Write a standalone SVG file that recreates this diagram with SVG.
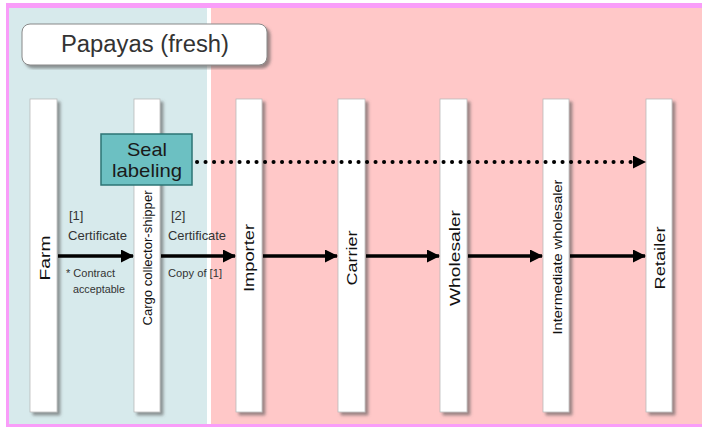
<svg xmlns="http://www.w3.org/2000/svg" width="702" height="427" viewBox="0 0 702 427">
  <defs>
    <filter id="sh" x="-30%" y="-10%" width="160%" height="120%">
      <feDropShadow dx="3" dy="3" stdDeviation="1.5" flood-color="#555" flood-opacity="0.6"/>
    </filter>
    <marker id="ah" markerWidth="13" markerHeight="13" refX="12" refY="6.5" orient="auto" markerUnits="userSpaceOnUse">
      <path d="M0,0 L13,6.5 L0,13 Z" fill="#000"/>
    </marker>
  </defs>
  <style>
    .lane { fill: #ffffff; stroke: #bbbbbb; stroke-width: 0.8; filter: url(#sh); }
    .ln { font-family: "Liberation Sans", Arial, sans-serif; font-size: 15px; fill: #111; }
    .sm { font-family: "Liberation Sans", Arial, sans-serif; font-size: 13px; fill: #333; }
    .xs { font-family: "Liberation Sans", Arial, sans-serif; font-size: 11px; fill: #333; }
    .flow { stroke: #000; stroke-width: 3.5; fill: none; marker-end: url(#ah); }
    .dot { stroke: #000; stroke-width: 4; fill: none; stroke-dasharray: 0.1 8.4; stroke-linecap: round; marker-end: url(#ah); }
  </style>

  <!-- background and frame -->
  <rect x="0" y="0" width="702" height="427" fill="#ffffff"/>
  <rect x="6" y="3" width="696" height="424" fill="#f99df9"/>
  <rect x="9" y="8" width="198" height="416" fill="#d7eaec"/>
  <rect x="207" y="8" width="4" height="416" fill="#ffffff"/>
  <rect x="211" y="8" width="491" height="416" fill="#ffc8c8"/>

  <!-- title -->
  <g id="title">
    <rect x="22" y="24" width="245" height="41" rx="8" fill="#ffffff" stroke="#888" stroke-width="1" filter="url(#sh)"/>
    <text x="145" y="52" text-anchor="middle" font-family="Liberation Sans, Arial, sans-serif" font-size="23" fill="#333" textLength="168" lengthAdjust="spacingAndGlyphs">Papayas (fresh)</text>
  </g>

  <!-- lanes -->
  <g id="farm">
    <rect class="lane" x="30" y="99" width="27" height="313"/>
    <text class="ln" transform="translate(50,258) rotate(-90)" text-anchor="middle" textLength="45" lengthAdjust="spacingAndGlyphs">Farm</text>
  </g>
  <g id="cargo">
    <rect class="lane" x="134" y="99" width="26" height="313"/>
    <text class="ln" style="font-size:13px" transform="translate(152,258) rotate(-90)" text-anchor="middle" textLength="135" lengthAdjust="spacingAndGlyphs">Cargo collector-shipper</text>
  </g>
  <g id="importer">
    <rect class="lane" x="236" y="99" width="26" height="313"/>
    <text class="ln" transform="translate(254,258) rotate(-90)" text-anchor="middle" textLength="68" lengthAdjust="spacingAndGlyphs">Importer</text>
  </g>
  <g id="carrier">
    <rect class="lane" x="338" y="99" width="27" height="313"/>
    <text class="ln" transform="translate(357,258) rotate(-90)" text-anchor="middle" textLength="55" lengthAdjust="spacingAndGlyphs">Carrier</text>
  </g>
  <g id="wholesaler">
    <rect class="lane" x="440" y="99" width="27" height="313"/>
    <text class="ln" transform="translate(460,258) rotate(-90)" text-anchor="middle" textLength="96" lengthAdjust="spacingAndGlyphs">Wholesaler</text>
  </g>
  <g id="intermediate">
    <rect class="lane" x="543" y="99" width="26" height="313"/>
    <text class="ln" style="font-size:13px" transform="translate(562,257) rotate(-90)" text-anchor="middle" textLength="155" lengthAdjust="spacingAndGlyphs">Intermediate wholesaler</text>
  </g>
  <g id="retailer">
    <rect class="lane" x="646" y="99" width="26" height="313"/>
    <text class="ln" transform="translate(665,258) rotate(-90)" text-anchor="middle" textLength="63" lengthAdjust="spacingAndGlyphs">Retailer</text>
  </g>

  <!-- seal labeling -->
  <g id="seal">
    <rect x="101" y="134" width="91" height="51" fill="#6cc0c2" stroke="#2d7474" stroke-width="1.5"/>
    <text x="147" y="156" text-anchor="middle" font-family="Liberation Sans, Arial, sans-serif" font-size="19" fill="#1a1a1a" textLength="40" lengthAdjust="spacingAndGlyphs">Seal</text>
    <text x="147" y="177" text-anchor="middle" font-family="Liberation Sans, Arial, sans-serif" font-size="19" fill="#1a1a1a" textLength="70" lengthAdjust="spacingAndGlyphs">labeling</text>
  </g>

  <!-- connectors -->
  <g id="connectors">
    <line class="dot" x1="197" y1="162" x2="645" y2="162"/>
    <line class="flow" x1="58" y1="256" x2="133" y2="256"/>
    <line class="flow" x1="161" y1="256" x2="235" y2="256"/>
    <line class="flow" x1="263" y1="256" x2="337" y2="256"/>
    <line class="flow" x1="366" y1="256" x2="439" y2="256"/>
    <line class="flow" x1="468" y1="256" x2="542" y2="256"/>
    <line class="flow" x1="570" y1="256" x2="645" y2="256"/>
  </g>

  <!-- labels -->
  <g id="labels">
    <text class="sm" x="69" y="220">[1]</text>
    <text class="sm" x="68" y="240" textLength="59" lengthAdjust="spacingAndGlyphs">Certificate</text>
    <text class="xs" x="66" y="277" textLength="49" lengthAdjust="spacingAndGlyphs">* Contract</text>
    <text class="xs" x="73" y="293" textLength="52" lengthAdjust="spacingAndGlyphs">acceptable</text>
    <text class="sm" x="171" y="220">[2]</text>
    <text class="sm" x="168" y="240" textLength="58" lengthAdjust="spacingAndGlyphs">Certificate</text>
    <text class="xs" x="168" y="277" textLength="54" lengthAdjust="spacingAndGlyphs">Copy of [1]</text>
  </g>
</svg>
